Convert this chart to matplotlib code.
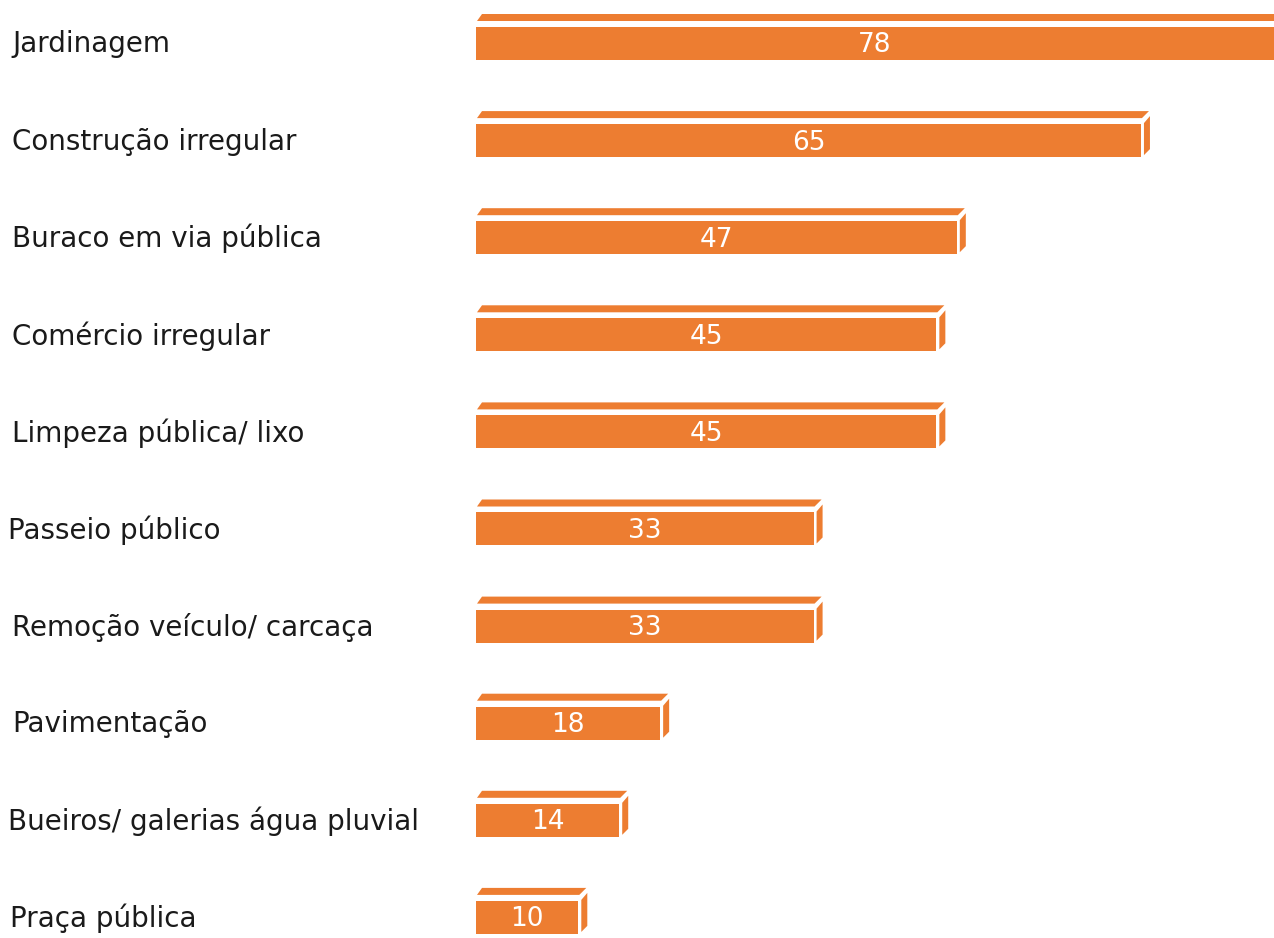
import matplotlib.pyplot as plt
from matplotlib.patches import Polygon

categories = [
    "Jardinagem",
    "Construção irregular",
    "Buraco em via pública",
    "Comércio irregular",
    "Limpeza pública/ lixo",
    "Passeio público",
    "Remoção veículo/ carcaça",
    "Pavimentação",
    "Bueiros/ galerias água pluvial",
    "Praça pública",
]
values = [78, 65, 47, 45, 45, 33, 33, 18, 14, 10]

ORANGE = "#ED7D31"
W, H = 1274, 938
PX_PER_UNIT = 10.23   # horizontal pixels per value unit
ROW = 97.1            # vertical pixels per row
X0_PX = 476           # left edge of bars
Y0_PX = 43.5          # centre of first bar


def main():
    fig = plt.figure(figsize=(W / 100, H / 100), dpi=100)
    ax = fig.add_axes([0, 0, 1, 1])
    ax.set_xlim(-X0_PX / PX_PER_UNIT, (W - X0_PX) / PX_PER_UNIT)
    ax.set_ylim((H - Y0_PX) / ROW, -Y0_PX / ROW)
    ax.axis("off")

    dx = 1 / PX_PER_UNIT
    dy = 1 / ROW
    h = 33 * dy

    ys = list(range(len(values)))
    ax.barh(ys, values, height=h, left=0, color=ORANGE, edgecolor="none")

    for i, v in enumerate(values):
        ft = i - h / 2
        fb = i + h / 2
        top = [(1 * dx, ft - 6 * dy), (v + 1 * dx, ft - 6 * dy),
               (v + 8 * dx, ft - 13 * dy), (6 * dx, ft - 13 * dy)]
        ax.add_patch(Polygon(top, closed=True, color=ORANGE, lw=0))
        side = [(v + 3 * dx, ft - 1 * dy), (v + 9 * dx, ft - 8 * dy),
                (v + 9 * dx, fb - 8 * dy), (v + 3 * dx, fb - 2 * dy)]
        ax.add_patch(Polygon(side, closed=True, color=ORANGE, lw=0))
        ax.text(v / 2, i + 2 * dy, str(v), color="white", fontsize=19,
                ha="center", va="center")

    label_x = {"Passeio público": 8, "Bueiros/ galerias água pluvial": 8,
               "Praça pública": 10}
    for i, cat in enumerate(categories):
        px = label_x.get(cat, 12)
        ax.text(px / W, i + 1 * dy, cat, transform=ax.get_yaxis_transform(),
                fontsize=20, color="#1a1a1a", ha="left", va="center")

    fig.savefig("out.png", dpi=100)


if __name__ == "__main__":
    main()
